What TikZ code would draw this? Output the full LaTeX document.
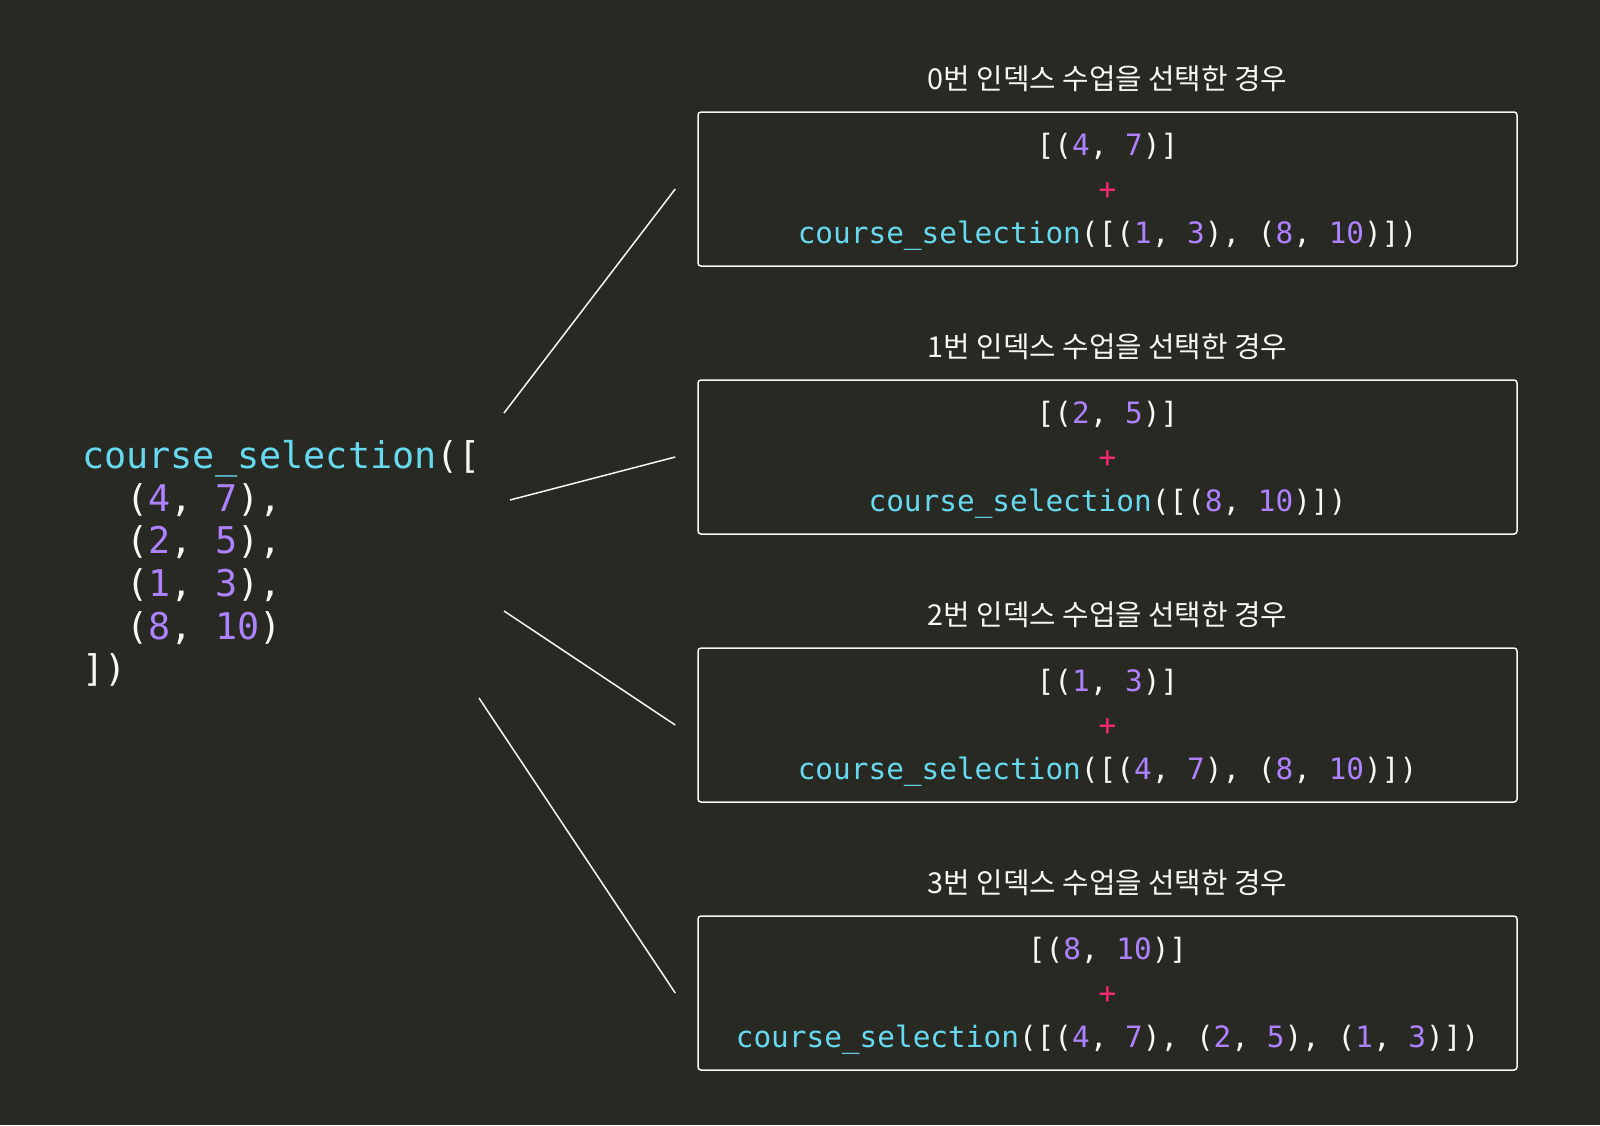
\documentclass[tikz,border=0pt]{standalone}
\usepackage{fontspec}
\setmonofont{DejaVu Sans Mono}
\newfontfamily\kofont{Noto Sans CJK KR}
\usepackage{xcolor}
\usepackage{tikz}
\usetikzlibrary{positioning}
\definecolor{bgdark}{HTML}{282923}
\definecolor{fgwhite}{HTML}{F8F8F2}
\definecolor{fncyan}{HTML}{66D9EF}
\definecolor{numpurple}{HTML}{AE81FF}
\definecolor{oppink}{HTML}{F92672}
\newcommand{\fn}[1]{\textcolor{fncyan}{#1}}
\newcommand{\nm}[1]{\textcolor{numpurple}{#1}}
\newcommand{\plusop}{\textcolor{oppink}{+}}

\begin{document}
\begin{tikzpicture}[x=1pt, y=1pt,
    casebox/.style={draw=fgwhite, line width=1.5pt, rounded corners=3pt, minimum width=819pt, minimum height=154pt, inner sep=0pt},
    casecode/.style={align=center, text=fgwhite, inner sep=0pt, font=\ttfamily\fontsize{29.4}{44}\selectfont},
    casetitle/.style={text=fgwhite, font=\kofont\fontsize{28.8}{34}\selectfont, inner sep=0pt},
    branch/.style={draw=fgwhite, line width=1.5pt}]
    \fill[bgdark] (0,0) rectangle (1600,-1125);
    \useasboundingbox (0,0) rectangle (1600,-1125);

    % the call being split
    \node[anchor=west, align=left, text=fgwhite, inner sep=0pt, font=\ttfamily\fontsize{36.8}{42.6}\selectfont] (call) at (82,-563.5)
        {\fn{course\_selection}([\\
         \phantom{((}(\nm{4}, \nm{7}),\\
         \phantom{((}(\nm{2}, \nm{5}),\\
         \phantom{((}(\nm{1}, \nm{3}),\\
         \phantom{((}(\nm{8}, \nm{10})\\
         ])};

    % one box per chosen index
    \node[casebox] (box0) at (1107.5,-189) {};
    \node[casebox, below=112.5pt of box0] (box1) {};
    \node[casebox, below=112.5pt of box1] (box2) {};
    \node[casebox, below=112.5pt of box2] (box3) {};

    \node[casecode] (expr0) at ([yshift=-3pt]box0.center)
        {[(\nm{4}, \nm{7})]\\\plusop\\\fn{course\_selection}([(\nm{1}, \nm{3}), (\nm{8}, \nm{10})])};
    \node[casecode] (expr1) at ([yshift=-3pt]box1.center)
        {[(\nm{2}, \nm{5})]\\\plusop\\\fn{course\_selection}([(\nm{8}, \nm{10})])};
    \node[casecode] (expr2) at ([yshift=-3pt]box2.center)
        {[(\nm{1}, \nm{3})]\\\plusop\\\fn{course\_selection}([(\nm{4}, \nm{7}), (\nm{8}, \nm{10})])};
    \node[casecode] (expr3) at ([yshift=-3pt]box3.center)
        {[(\nm{8}, \nm{10})]\\\plusop\\\fn{course\_selection}([(\nm{4}, \nm{7}), (\nm{2}, \nm{5}), (\nm{1}, \nm{3})])};

    \node[casetitle, above=33pt of box0.north, anchor=center] (title0) {0번 인덱스 수업을 선택한 경우};
    \node[casetitle, above=33pt of box1.north, anchor=center] (title1) {1번 인덱스 수업을 선택한 경우};
    \node[casetitle, above=33pt of box2.north, anchor=center] (title2) {2번 인덱스 수업을 선택한 경우};
    \node[casetitle, above=33pt of box3.north, anchor=center] (title3) {3번 인덱스 수업을 선택한 경우};

    % branches
    \coordinate (tail0) at (504,-413);
    \coordinate (tail1) at (510,-500);
    \coordinate (tail2) at (504,-611);
    \coordinate (tail3) at (479,-698);
    \foreach \i in {0,...,3}
        \draw[branch] (tail\i) -- ([xshift=-22pt]box\i.west);
\end{tikzpicture}
\end{document}
